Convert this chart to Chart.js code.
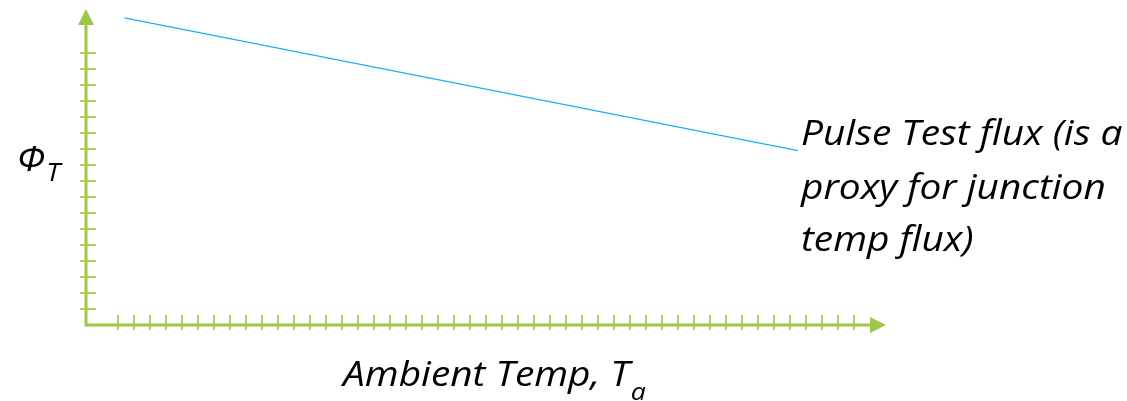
<!DOCTYPE html>
<html>
<head>
<meta charset="utf-8">
<script src="https://cdn.jsdelivr.net/npm/chart.js@4/dist/chart.umd.min.js"></script>
<style>
  html, body { margin: 0; padding: 0; background: #fff; }
  #wrap { width: 1127px; height: 401px; position: relative; }
</style>
</head>
<body>
<div id="wrap"><canvas id="myChart"></canvas></div>
<script>
"use strict"

// data
const xTicks = [2, 3, 4, 5, 6, 7, 8, 9, 10, 11, 12, 13, 14, 15, 16, 17, 18, 19, 20, 21, 22, 23, 24, 25,
    26, 27, 28, 29, 30, 31, 32, 33, 34, 35, 36, 37, 38, 39, 40, 41, 42, 43, 44, 45, 46, 47, 48];
const yTicks = [1, 2, 3, 4, 5, 6, 7, 8, 9, 10, 11, 12, 13, 14, 15, 16, 17];
const fluxX = [2.4, 44.5];
const fluxY = [19.2, 10.9];
const fluxLabel = ["Pulse Test flux (is a", "proxy for junction", "temp flux)"];
const xTitle = ["Ambient Temp, T", "a"];
const yTitle = ["\u03A6", "T"];

const green = "#9bc847";
const font = "'Open Sans', sans-serif";
const stretch = 1.11;

let points = [];
for (let i = 0; i < fluxX.length; i++) {
    points.push({ x: fluxX[i], y: fluxY[i] });
}

// text a bit wider than the font, like the picture
function wideText(ctx, txt, x, y, size) {
    ctx.save();
    ctx.font = "italic " + size + "px " + font;
    ctx.translate(x, y);
    ctx.scale(stretch, 1);
    ctx.fillText(txt, 0, 0);
    let w = ctx.measureText(txt).width * stretch;
    ctx.restore();
    return w;
}

// draws the arrow axes, crossing ticks and text
const axesPlugin = {
    id: "axesPlugin",
    beforeDatasetsDraw(chart) {
        let ctx = chart.ctx;
        let sx = chart.scales.x;
        let sy = chart.scales.y;
        let x0 = sx.getPixelForValue(0);
        let y0 = sy.getPixelForValue(0);
        let xEnd = sx.getPixelForValue(sx.max);
        let yEnd = sy.getPixelForValue(sy.max);
        ctx.save();
        ctx.strokeStyle = green;
        ctx.fillStyle = green;

        // ticks
        ctx.lineWidth = 1.7;
        for (let v of yTicks) {
            let py = sy.getPixelForValue(v);
            ctx.beginPath();
            ctx.moveTo(x0 - 6, py);
            ctx.lineTo(x0 + 10, py);
            ctx.stroke();
        }
        for (let v of xTicks) {
            let px = sx.getPixelForValue(v);
            ctx.beginPath();
            ctx.moveTo(px, y0 - 10);
            ctx.lineTo(px, y0 + 5);
            ctx.stroke();
        }

        // axis lines
        ctx.lineWidth = 3;
        ctx.beginPath();
        ctx.moveTo(x0, y0 + 1.5);
        ctx.lineTo(x0, yEnd + 16);
        ctx.moveTo(x0 - 1.5, y0);
        ctx.lineTo(xEnd - 15, y0);
        ctx.stroke();

        // arrow heads
        ctx.beginPath();
        ctx.moveTo(x0, yEnd);
        ctx.lineTo(x0 - 8, yEnd + 16);
        ctx.lineTo(x0 + 8, yEnd + 16);
        ctx.closePath();
        ctx.fill();
        ctx.beginPath();
        ctx.moveTo(xEnd, y0);
        ctx.lineTo(xEnd - 16, y0 - 8);
        ctx.lineTo(xEnd - 16, y0 + 8);
        ctx.closePath();
        ctx.fill();

        // texts
        ctx.fillStyle = "#000";
        ctx.textBaseline = "alphabetic";
        ctx.textAlign = "left";
        let lineY = [145, 199, 251];
        for (let i = 0; i < fluxLabel.length; i++) {
            wideText(ctx, fluxLabel[i], 801, lineY[i], 35);
        }
        let w = wideText(ctx, xTitle[0], 343, 386, 35);
        wideText(ctx, xTitle[1], 343 + w + 1, 400, 24);

        let w2 = wideText(ctx, yTitle[0], 17, 171, 34);
        wideText(ctx, yTitle[1], 17 + w2 + 1, 181, 25);
        ctx.restore();
    }
};

let ctx = document.getElementById("myChart").getContext("2d");
let myChart = new Chart(ctx, {
    type: "scatter",
    data: {
        datasets: [{
            data: points,
            showLine: true,
            borderColor: "#1cb0f0",
            borderWidth: 1.2,
            pointRadius: 0,
            clip: false
        }]
    },
    options: {
        responsive: true,
        maintainAspectRatio: false,
        devicePixelRatio: 1,
        animation: false,
        layout: { padding: { left: 86, right: 241, top: 9, bottom: 76 } },
        plugins: { legend: { display: false }, tooltip: { enabled: false } },
        scales: {
            x: { type: "linear", min: 0, max: 50, display: false },
            y: { type: "linear", min: 0, max: 19.75, display: false }
        }
    },
    plugins: [axesPlugin]
});
</script>
</body>
</html>
